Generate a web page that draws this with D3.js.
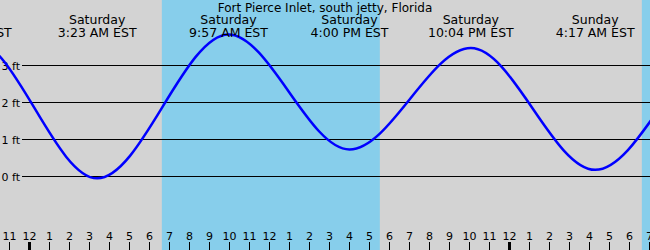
<!DOCTYPE html>
<html>
<head>
<meta charset="utf-8">
<script src="https://cdn.jsdelivr.net/npm/d3@7"></script>
<style>
  html, body { margin: 0; padding: 0; background: #fff; }
  svg { display: block; font-family: "DejaVu Sans", sans-serif; }
</style>
</head>
<body>
<div id="chart"></div>
<script>
// highs et lows (heure locale EST), hauteurs en pieds
const tideTimes = ["2025-01-03 15:00", "2025-01-03 21:10", "2025-01-04 03:23", "2025-01-04 09:57",
                   "2025-01-04 16:00", "2025-01-04 22:04", "2025-01-05 04:17", "2025-01-05 10:50",
                   "2025-01-05 17:00"];
const tideHeights = [0.6, 3.7, -0.05, 3.84, 0.73, 3.47, 0.18, 3.6, 0.6];

// jour (lever / coucher du soleil)
const sunrise = ["2025-01-04 06:37", "2025-01-05 06:37"];
const sunset = ["2025-01-04 17:31", "2025-01-05 17:31"];

const yTicks = [0, 1, 2, 3];
const title = "Fort Pierce Inlet, south jetty, Florida";

const parse = d3.timeParse("%Y-%m-%d %H:%M");
const width = 650, height = 250;

const data = tideTimes.map((t, i) => ({ date: parse(t), ft: tideHeights[i] }));

const x = d3.scaleTime()
    .domain([new Date(2025, 0, 3, 22, 31, 30), new Date(2025, 0, 5, 7, 1, 30)])
    .range([0, width]);

const y = d3.scaleLinear()
    .domain([0, 3])
    .range([176.5, 65.5]);

const svg = d3.select("#chart").append("svg")
    .attr("width", width)
    .attr("height", height)
    .attr("viewBox", [0, 0, width, height]);

// fond gris
svg.append("rect").attr("width", width).attr("height", height).attr("fill", "#d3d3d3");

// bandes de jour
svg.append("g")
    .selectAll("rect")
    .data(sunrise.map((s, i) => [parse(s), parse(sunset[i])]))
    .join("rect")
    .attr("x", d => x(d[0]))
    .attr("width", d => x(d[1]) - x(d[0]))
    .attr("y", 0)
    .attr("height", height)
    .attr("fill", "#87ceeb");

// lignes horizontales + labels ft
const grid = svg.append("g");
grid.selectAll("line")
    .data(yTicks)
    .join("line")
    .attr("x1", 22).attr("x2", width)
    .attr("y1", d => y(d)).attr("y2", d => y(d))
    .attr("stroke", "#000")
    .attr("stroke-width", 1);
grid.selectAll("text")
    .data(yTicks)
    .join("text")
    .attr("x", 20)
    .attr("y", d => y(d) + 4)
    .attr("text-anchor", "end")
    .style("font-size", "11px")
    .text(d => d + " ft");

// courbe de marée
svg.append("path")
    .datum(data)
    .attr("fill", "none")
    .attr("stroke", "#0000ff")
    .attr("stroke-width", 2.5)
    .attr("d", d3.line()
        .x(d => x(d.date))
        .y(d => y(d.ft))
        .curve(d3.curveMonotoneX));

// titre
svg.append("text")
    .attr("x", width / 2)
    .attr("y", 12)
    .attr("text-anchor", "middle")
    .style("font-size", "12px")
    .text(title);

// labels des highs / lows
const labels = svg.append("g")
    .selectAll("g")
    .data(data.slice(1, 7))
    .join("g")
    .attr("transform", d => `translate(${x(d.date)},0)`)
    .attr("text-anchor", "middle")
    .style("font-size", "12.5px");
labels.append("text").attr("y", 23.5).text(d => d3.timeFormat("%A")(d.date));
labels.append("text").attr("y", 37).text(d => d3.timeFormat("%-I:%M %p")(d.date) + " EST");

// axe des heures
const hours = d3.timeHour.range(new Date(2025, 0, 3, 23), new Date(2025, 0, 5, 8));
const axis = svg.append("g");
axis.selectAll("line")
    .data(hours)
    .join("line")
    .attr("x1", d => x(d)).attr("x2", d => x(d))
    .attr("y1", 242).attr("y2", height)
    .attr("stroke", "#000")
    .attr("stroke-width", d => d.getHours() === 0 ? 3 : 1);
axis.selectAll("text")
    .data(hours)
    .join("text")
    .attr("x", d => x(d))
    .attr("y", 239.5)
    .attr("text-anchor", "middle")
    .style("font-size", "11px")
    .text(d => d3.timeFormat("%-I")(d));
</script>
</body>
</html>
